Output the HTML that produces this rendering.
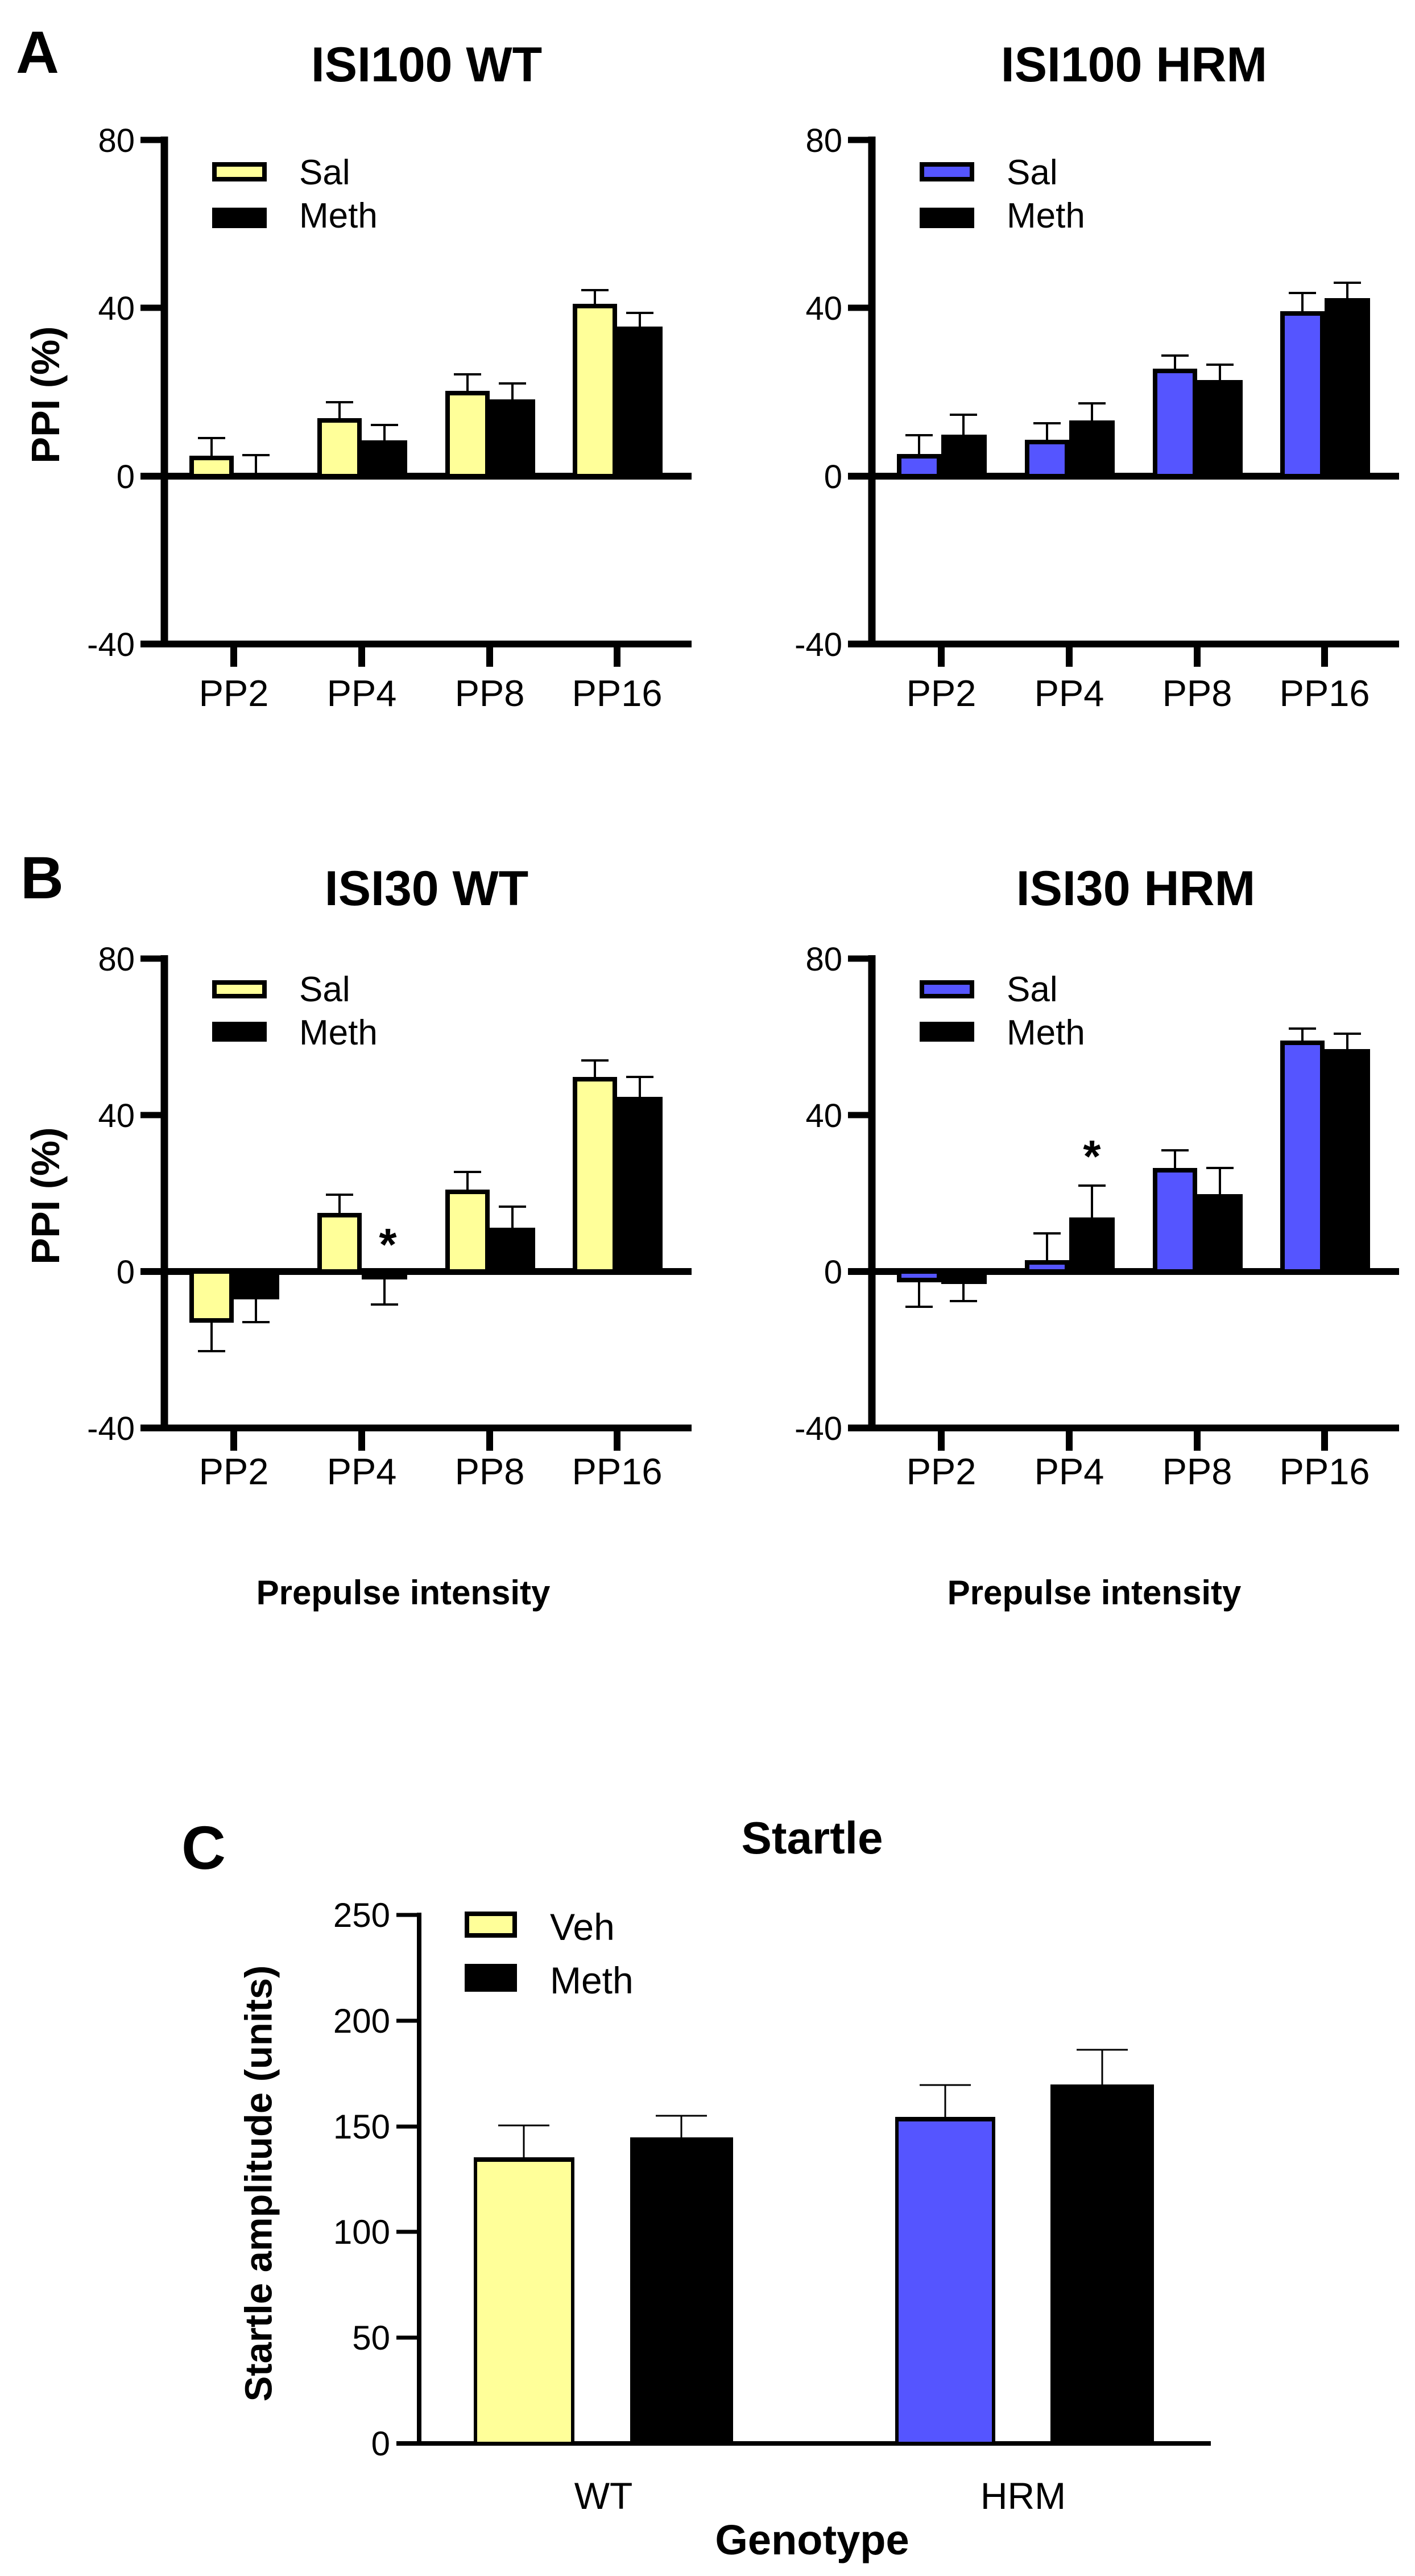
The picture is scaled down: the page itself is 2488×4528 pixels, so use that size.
<!DOCTYPE html>
<html><head><meta charset="utf-8"><style>html,body{margin:0;padding:0;background:#fff}svg{display:block}</style></head>
<body>
<svg width="2488" height="4528" viewBox="0 0 2488 4528" xmlns="http://www.w3.org/2000/svg" font-family="Liberation Sans, Arial, sans-serif">
<rect width="2488" height="4528" fill="#fff"/>
<defs>
<g id="axA">
  <line x1="289" y1="240" x2="289" y2="1138" stroke="#000" stroke-width="13"/>
  <line x1="247" y1="246" x2="289" y2="246" stroke="#000" stroke-width="11"/>
  <line x1="247" y1="541" x2="289" y2="541" stroke="#000" stroke-width="11"/>
  <line x1="247" y1="837" x2="1216" y2="837" stroke="#000" stroke-width="12"/>
  <line x1="247" y1="1132" x2="1216" y2="1132" stroke="#000" stroke-width="12"/>
  <g stroke="#000" stroke-width="12"><line x1="411" y1="1132" x2="411" y2="1172"/><line x1="636" y1="1132" x2="636" y2="1172"/><line x1="861" y1="1132" x2="861" y2="1172"/><line x1="1085" y1="1132" x2="1085" y2="1172"/></g>
  <g font-size="58" text-anchor="end"><text x="237" y="267">80</text><text x="237" y="562">40</text><text x="237" y="858">0</text><text x="237" y="1153">-40</text></g>
  <g font-size="65" text-anchor="middle"><text x="411" y="1241">PP2</text><text x="636" y="1241">PP4</text><text x="861" y="1241">PP8</text><text x="1085" y="1241">PP16</text></g>
  <rect x="373" y="365" width="96" height="36" fill="#000"/>
  <g font-size="62"><text x="526" y="324">Sal</text><text x="526" y="400">Meth</text></g>
</g>
<g id="axB">
  <line x1="289" y1="1679" x2="289" y2="2516" stroke="#000" stroke-width="13"/>
  <line x1="247" y1="1685" x2="289" y2="1685" stroke="#000" stroke-width="11"/>
  <line x1="247" y1="1960" x2="289" y2="1960" stroke="#000" stroke-width="11"/>
  <line x1="247" y1="2235" x2="1216" y2="2235" stroke="#000" stroke-width="12"/>
  <line x1="247" y1="2510" x2="1216" y2="2510" stroke="#000" stroke-width="12"/>
  <g stroke="#000" stroke-width="12"><line x1="411" y1="2510" x2="411" y2="2550"/><line x1="636" y1="2510" x2="636" y2="2550"/><line x1="861" y1="2510" x2="861" y2="2550"/><line x1="1085" y1="2510" x2="1085" y2="2550"/></g>
  <g font-size="58" text-anchor="end"><text x="237" y="1706">80</text><text x="237" y="1981">40</text><text x="237" y="2256">0</text><text x="237" y="2531">-40</text></g>
  <g font-size="65" text-anchor="middle"><text x="411" y="2609">PP2</text><text x="636" y="2609">PP4</text><text x="861" y="2609">PP8</text><text x="1085" y="2609">PP16</text></g>
  <rect x="373" y="1796" width="96" height="35" fill="#000"/>
  <g font-size="62"><text x="526" y="1760">Sal</text><text x="526" y="1836">Meth</text></g>
</g>
</defs>

<g font-weight="bold">
<text x="28" y="128" font-size="105">A</text>
<text x="36" y="1579" font-size="105">B</text>
<text x="319" y="3285" font-size="108">C</text>
<g font-size="86" text-anchor="middle">
<text x="750" y="143">ISI100 WT</text>
<text x="1994" y="143">ISI100 HRM</text>
<text x="750" y="1591">ISI30 WT</text>
<text x="1997" y="1591">ISI30 HRM</text>
</g>
<text transform="translate(80,694) rotate(-90)" font-size="70" text-anchor="middle" dominant-baseline="central">PPI (%)</text>
<text transform="translate(80,2102) rotate(-90)" font-size="70" text-anchor="middle" dominant-baseline="central">PPI (%)</text>
<text x="709" y="2820" font-size="60" text-anchor="middle">Prepulse intensity</text>
<text x="1924" y="2820" font-size="60" text-anchor="middle">Prepulse intensity</text>
</g>

<use href="#axA"/>
<use href="#axA" x="1244"/>
<use href="#axB"/>
<use href="#axB" x="1244"/>

<rect x="377" y="289" width="88" height="26" fill="#FFFF99" stroke="#000" stroke-width="8"/>
<rect x="1621" y="289" width="88" height="26" fill="#5555FF" stroke="#000" stroke-width="8"/>
<rect x="377" y="1727" width="88" height="24" fill="#FFFF99" stroke="#000" stroke-width="8"/>
<rect x="1621" y="1727" width="88" height="24" fill="#5555FF" stroke="#000" stroke-width="8"/>

<g stroke="#000" stroke-width="4">
<line x1="372" y1="801" x2="372" y2="770"/><line x1="348" y1="770" x2="396" y2="770"/>
<line x1="450" y1="837" x2="450" y2="800"/><line x1="426" y1="800" x2="474" y2="800"/>
<line x1="597" y1="735" x2="597" y2="707"/><line x1="573" y1="707" x2="621" y2="707"/>
<line x1="676" y1="774" x2="676" y2="747"/><line x1="652" y1="747" x2="700" y2="747"/>
<line x1="822" y1="687" x2="822" y2="658"/><line x1="798" y1="658" x2="846" y2="658"/>
<line x1="901" y1="702" x2="901" y2="674"/><line x1="877" y1="674" x2="925" y2="674"/>
<line x1="1046" y1="534" x2="1046" y2="510"/><line x1="1022" y1="510" x2="1070" y2="510"/>
<line x1="1125" y1="574" x2="1125" y2="550"/><line x1="1101" y1="550" x2="1149" y2="550"/>
<line x1="1616" y1="798" x2="1616" y2="765"/><line x1="1592" y1="765" x2="1640" y2="765"/>
<line x1="1694" y1="764" x2="1694" y2="729"/><line x1="1670" y1="729" x2="1718" y2="729"/>
<line x1="1841" y1="773" x2="1841" y2="744"/><line x1="1817" y1="744" x2="1865" y2="744"/>
<line x1="1920" y1="739" x2="1920" y2="709"/><line x1="1896" y1="709" x2="1944" y2="709"/>
<line x1="2066" y1="648" x2="2066" y2="625"/><line x1="2042" y1="625" x2="2090" y2="625"/>
<line x1="2145" y1="668" x2="2145" y2="641"/><line x1="2121" y1="641" x2="2169" y2="641"/>
<line x1="2290" y1="547" x2="2290" y2="515"/><line x1="2266" y1="515" x2="2314" y2="515"/>
<line x1="2369" y1="524" x2="2369" y2="497"/><line x1="2345" y1="497" x2="2393" y2="497"/>
<line x1="372" y1="2325" x2="372" y2="2375"/><line x1="348" y1="2375" x2="396" y2="2375"/>
<line x1="450" y1="2284" x2="450" y2="2324"/><line x1="426" y1="2324" x2="474" y2="2324"/>
<line x1="597" y1="2132" x2="597" y2="2100"/><line x1="573" y1="2100" x2="621" y2="2100"/>
<line x1="676" y1="2249" x2="676" y2="2293"/><line x1="652" y1="2293" x2="700" y2="2293"/>
<line x1="822" y1="2091" x2="822" y2="2060"/><line x1="798" y1="2060" x2="846" y2="2060"/>
<line x1="901" y1="2158" x2="901" y2="2121"/><line x1="877" y1="2121" x2="925" y2="2121"/>
<line x1="1046" y1="1893" x2="1046" y2="1864"/><line x1="1022" y1="1864" x2="1070" y2="1864"/>
<line x1="1125" y1="1928" x2="1125" y2="1893"/><line x1="1101" y1="1893" x2="1149" y2="1893"/>
<line x1="1616" y1="2254" x2="1616" y2="2297"/><line x1="1592" y1="2297" x2="1640" y2="2297"/>
<line x1="1694" y1="2257" x2="1694" y2="2287"/><line x1="1670" y1="2287" x2="1718" y2="2287"/>
<line x1="1841" y1="2215" x2="1841" y2="2168"/><line x1="1817" y1="2168" x2="1865" y2="2168"/>
<line x1="1920" y1="2140" x2="1920" y2="2084"/><line x1="1896" y1="2084" x2="1944" y2="2084"/>
<line x1="2066" y1="2053" x2="2066" y2="2022"/><line x1="2042" y1="2022" x2="2090" y2="2022"/>
<line x1="2145" y1="2099" x2="2145" y2="2053"/><line x1="2121" y1="2053" x2="2169" y2="2053"/>
<line x1="2290" y1="1829" x2="2290" y2="1808"/><line x1="2266" y1="1808" x2="2314" y2="1808"/>
<line x1="2369" y1="1844" x2="2369" y2="1817"/><line x1="2345" y1="1817" x2="2393" y2="1817"/>
</g>

<g stroke="#000" stroke-width="8" fill="#FFFF99">
<rect x="337" y="805" width="70" height="32"/>
<rect x="562" y="739" width="70" height="98"/>
<rect x="787" y="691" width="70" height="146"/>
<rect x="1011" y="538" width="70" height="299"/>
<rect x="337" y="2235" width="70" height="86"/>
<rect x="562" y="2136" width="70" height="99"/>
<rect x="787" y="2095" width="70" height="140"/>
<rect x="1011" y="1897" width="70" height="338"/>
</g>
<g stroke="#000" stroke-width="8" fill="#5555FF">
<rect x="1581" y="802" width="70" height="35"/>
<rect x="1806" y="777" width="70" height="60"/>
<rect x="2031" y="652" width="70" height="185"/>
<rect x="2255" y="551" width="70" height="286"/>
<rect x="1581" y="2235" width="70" height="15"/>
<rect x="1806" y="2219" width="70" height="16"/>
<rect x="2031" y="2057" width="70" height="178"/>
<rect x="2255" y="1833" width="70" height="402"/>
</g>
<g fill="#000">
<rect x="636" y="774" width="80" height="63"/>
<rect x="861" y="702" width="80" height="135"/>
<rect x="1085" y="574" width="80" height="263"/>
<rect x="1655" y="764" width="80" height="73"/>
<rect x="1880" y="739" width="80" height="98"/>
<rect x="2105" y="668" width="80" height="169"/>
<rect x="2329" y="524" width="80" height="313"/>
<rect x="411" y="2235" width="80" height="49"/>
<rect x="636" y="2235" width="80" height="14"/>
<rect x="861" y="2158" width="80" height="77"/>
<rect x="1085" y="1928" width="80" height="307"/>
<rect x="1655" y="2235" width="80" height="22"/>
<rect x="1880" y="2140" width="80" height="95"/>
<rect x="2105" y="2099" width="80" height="136"/>
<rect x="2329" y="1844" width="80" height="391"/>
</g>
<g font-size="80" font-weight="bold" text-anchor="middle">
<text x="682" y="2215">*</text>
<text x="1920" y="2060">*</text>
</g>

<!-- Panel C -->
<text x="1428" y="3258" font-size="80" font-weight="bold" text-anchor="middle">Startle</text>
<line x1="737" y1="3362" x2="737" y2="4299" stroke="#000" stroke-width="8"/>
<g stroke="#000" stroke-width="7">
<line x1="697" y1="3366" x2="737" y2="3366"/><line x1="697" y1="3552" x2="737" y2="3552"/>
<line x1="697" y1="3738" x2="737" y2="3738"/><line x1="697" y1="3923" x2="737" y2="3923"/>
<line x1="697" y1="4109" x2="737" y2="4109"/>
</g>
<line x1="697" y1="4295" x2="2129" y2="4295" stroke="#000" stroke-width="8"/>
<g font-size="60" text-anchor="end">
<text x="686" y="3387">250</text><text x="686" y="3573">200</text><text x="686" y="3759">150</text>
<text x="686" y="3944">100</text><text x="686" y="4130">50</text><text x="686" y="4316">0</text>
</g>
<g stroke="#000" stroke-width="3">
<line x1="921" y1="3794" x2="921" y2="3736"/><line x1="876" y1="3736" x2="966" y2="3736"/>
<line x1="1198" y1="3757" x2="1198" y2="3719"/><line x1="1153" y1="3719" x2="1243" y2="3719"/>
<line x1="1662" y1="3723" x2="1662" y2="3665"/><line x1="1617" y1="3665" x2="1707" y2="3665"/>
<line x1="1938" y1="3664" x2="1938" y2="3603"/><line x1="1893" y1="3603" x2="1983" y2="3603"/>
</g>
<rect x="836" y="3797" width="171" height="498" fill="#FFFF99" stroke="#000" stroke-width="6"/>
<rect x="833" y="3792" width="177" height="8" fill="#000"/>
<rect x="1108" y="3757" width="181" height="538" fill="#000"/>
<rect x="1577" y="3726" width="170" height="569" fill="#5555FF" stroke="#000" stroke-width="6"/>
<rect x="1574" y="3721" width="176" height="8" fill="#000"/>
<rect x="1847" y="3664" width="182" height="631" fill="#000"/>
<rect x="821" y="3364" width="84" height="38" fill="#FFFF99" stroke="#000" stroke-width="8"/>
<rect x="817" y="3452" width="92" height="49" fill="#000"/>
<g font-size="66"><text x="967" y="3410">Veh</text><text x="967" y="3504">Meth</text></g>
<g font-size="66" text-anchor="middle"><text x="1061" y="4410">WT</text><text x="1799" y="4410">HRM</text></g>
<text x="1428" y="4490" font-size="74" font-weight="bold" text-anchor="middle">Genotype</text>
<text transform="translate(455,3838) rotate(-90)" font-size="67" font-weight="bold" text-anchor="middle" dominant-baseline="central">Startle amplitude (units)</text>
</svg>
</body></html>
